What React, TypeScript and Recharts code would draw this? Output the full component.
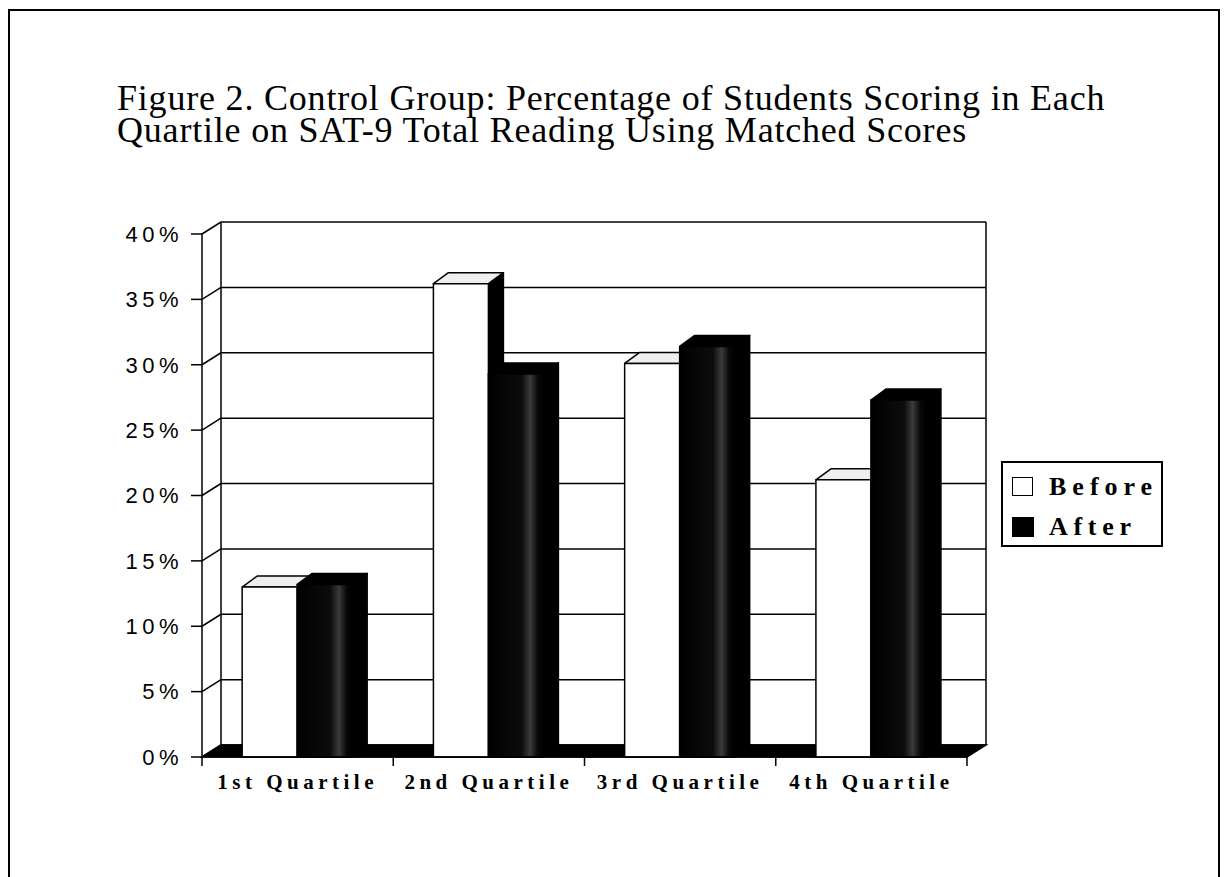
import React from 'react';
import { BarChart, Bar, XAxis, YAxis, CartesianGrid } from 'recharts';

const quartiles = ['1st Quartile', '2nd Quartile', '3rd Quartile', '4th Quartile'];
const before = [0.13, 0.362, 0.301, 0.212];
const after = [0.132, 0.293, 0.314, 0.273];
const yTicks = [0, 0.05, 0.1, 0.15, 0.2, 0.25, 0.3, 0.35, 0.4];

const data = quartiles.map((q, i) => ({ quartile: q, before: before[i], after: after[i] }));

// depth of the walls and of the bars (fake 3d)
const WX = 19;
const WY = 12;
const BX = 15;
const BY = 11;

const serif = '"Liberation Serif", "Times New Roman", serif';
const sans = '"Liberation Sans", Arial, sans-serif';

function Prism(props: any) {
  const { x, y, width, height, index, dark } = props;
  if (width == null || height == null) return null;
  const r = x + width;
  const b = y + height;
  const gid = `streak-${index}`;
  return (
    <g stroke="#000" strokeWidth={1.5} strokeLinejoin="round">
      {dark && (
        <defs>
          <linearGradient id={gid} x1="0" x2="1" y1="0" y2="0">
            <stop offset="0" stopColor="#000" />
            <stop offset="0.6" stopColor="#0c0c0c" />
            <stop offset="0.76" stopColor="#3a3a3a" />
            <stop offset="0.9" stopColor="#080808" />
            <stop offset="1" stopColor="#000" />
          </linearGradient>
        </defs>
      )}
      <polygon
        points={`${r},${y} ${r + BX},${y - BY} ${r + BX},${b - BY} ${r},${b}`}
        fill="#000"
      />
      <polygon
        points={`${x},${y} ${x + BX},${y - BY} ${r + BX},${y - BY} ${r},${y}`}
        fill={dark ? '#000' : '#efefef'}
      />
      <rect x={x} y={y} width={width} height={height} fill={dark ? `url(#${gid})` : '#fff'} />
    </g>
  );
}

function WallLine(props: any) {
  const { x1, y1, x2, index, x, y, width, height } = props;
  const gx = x ?? x1;
  const gw = width ?? x2 - x1;
  const top = y ?? 0;
  const bottom = y + height;
  const isBottom = Math.abs(y1 - bottom) < 1;
  const isTop = Math.abs(y1 - top) < 1;
  return (
    <g key={`wall-${index}`} stroke="#000" strokeWidth={1.5} fill="none">
      {isBottom && (
        <>
          <polygon
            points={`${gx},${y1} ${gx + WX},${y1 - WY} ${gx + gw + WX},${y1 - WY} ${gx + gw},${y1}`}
            fill="#000"
          />
          {[0, 1, 2, 3, 4].map((k) => (
            <line key={k} x1={gx + (k * gw) / 4} y1={y1} x2={gx + (k * gw) / 4} y2={y1 + 9} />
          ))}
        </>
      )}
      {isTop && (
        <>
          <line x1={gx + WX} y1={top - WY} x2={gx + WX} y2={bottom - WY} />
          <line x1={gx + gw + WX} y1={top - WY} x2={gx + gw + WX} y2={bottom - WY} />
        </>
      )}
      <line x1={gx} y1={y1} x2={gx + WX} y2={y1 - WY} />
      <line x1={gx + WX} y1={y1 - WY} x2={gx + gw + WX} y2={y1 - WY} />
    </g>
  );
}

function QuartileTick(props: any) {
  const { x, y, payload } = props;
  return (
    <text
      x={x}
      y={y + 32}
      textAnchor="middle"
      fontFamily={serif}
      fontWeight="bold"
      fontSize={21}
      letterSpacing={4.5}
      fill="#000"
    >
      {payload.value}
    </text>
  );
}

export default function App() {
  return (
    <div style={{ position: 'absolute', left: 0, top: 0, width: 1224, height: 877, background: '#fff', overflow: 'hidden' }}>
      <div
        style={{
          position: 'absolute',
          left: 8,
          top: 9,
          width: 1208,
          height: 866,
          border: '2px solid #000',
        }}
      />
      <div
        style={{
          position: 'absolute',
          left: 117,
          top: 82,
          fontFamily: serif,
          fontSize: 36,
          letterSpacing: 0.8,
          lineHeight: '32px',
          color: '#000',
          whiteSpace: 'nowrap',
        }}
      >
        Figure 2. Control Group: Percentage of Students Scoring in Each
        <br />
        Quartile on SAT-9 Total Reading Using Matched Scores
      </div>

      <div style={{ position: 'absolute', left: 0, top: 0 }}>
        <BarChart
          width={1224}
          height={877}
          data={data}
          margin={{ top: 234, right: 257, bottom: 90, left: 142 }}
          barCategoryGap="21%"
          barGap={0}
        >
          <CartesianGrid vertical={false} horizontal={(p: any) => <WallLine {...p} key={`w-${p.index}`} />} />
          <XAxis
            dataKey="quartile"
            height={30}
            tickLine={false}
            tickSize={0}
            tickMargin={0}
            axisLine={{ stroke: '#000', strokeWidth: 1.5 }}
            tick={<QuartileTick />}
            interval={0}
          />
          <YAxis
            width={60}
            domain={[0, 0.4]}
            ticks={yTicks}
            interval={0}
            tickFormatter={(v: number) => `${Math.round(v * 100)}%`}
            tickSize={11}
            tickMargin={8}
            axisLine={{ stroke: '#000', strokeWidth: 1.5 }}
            tickLine={{ stroke: '#000', strokeWidth: 1.5 }}
            tick={{ fontFamily: sans, fontSize: 22, letterSpacing: 4.5, fill: '#000' }}
          />
          <Bar dataKey="before" isAnimationActive={false} shape={(p: any) => <Prism {...p} dark={false} />} />
          <Bar dataKey="after" isAnimationActive={false} shape={(p: any) => <Prism {...p} dark />} />
        </BarChart>
      </div>

      <div
        style={{
          position: 'absolute',
          left: 1001,
          top: 461,
          width: 158,
          height: 82,
          border: '2px solid #000',
          background: '#fff',
          fontFamily: serif,
          fontWeight: 'bold',
          fontSize: 26,
          color: '#000',
        }}
      >
        <div style={{ position: 'absolute', left: 9, top: 14, width: 19, height: 17, border: '1.5px solid #000', background: '#fff' }} />
        <div style={{ position: 'absolute', left: 46, top: 9, lineHeight: '30px', letterSpacing: 6 }}>Before</div>
        <div style={{ position: 'absolute', left: 9, top: 54, width: 22, height: 20, background: '#000' }} />
        <div style={{ position: 'absolute', left: 46, top: 49, lineHeight: '30px', letterSpacing: 5.7 }}>After</div>
      </div>
    </div>
  );
}
